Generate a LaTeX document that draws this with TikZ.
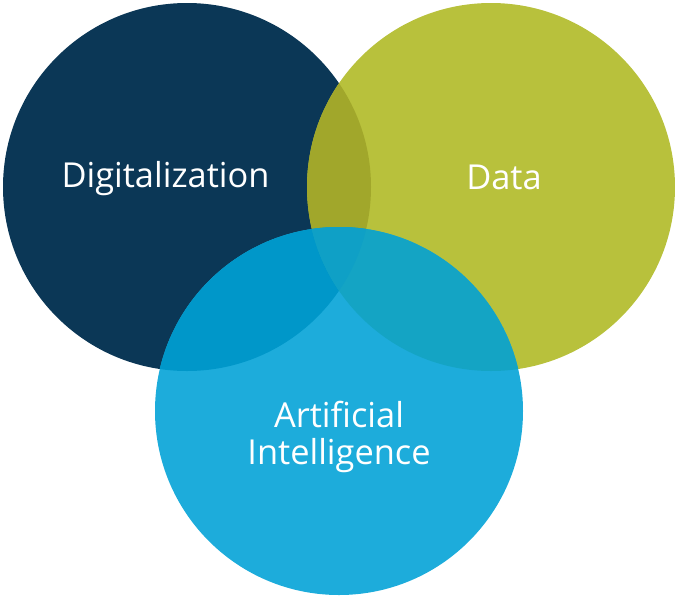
\documentclass[tikz,border=0pt]{standalone}
\usepackage{fontspec}
\setmainfont{Open Sans}
\definecolor{navy}{RGB}{11,55,86}
\definecolor{olive}{RGB}{184,193,60}
\definecolor{sky}{RGB}{29,172,219}
\definecolor{navyolive}{RGB}{161,167,43}
\definecolor{navysky}{RGB}{0,151,201}
\definecolor{olivesky}{RGB}{20,164,196}
\definecolor{allthree}{RGB}{15,160,198}
\tikzset{
  label/.style={anchor=base,inner sep=0.75pt,text=white,align=center,font=\fontsize{25.8}{27.75}\selectfont}
}
\begin{document}
\begin{tikzpicture}[x=0.75pt,y=0.75pt,yscale=-1,xscale=1]
\useasboundingbox (0,0) rectangle (675,597);
%Shape: Circle [Digitalization]
\fill [navy] (187,187) circle [radius=184];
%Shape: Circle [Data]
\fill [olive] (491,187) circle [radius=184];
%Shape: Circle [Artificial Intelligence]
\fill [sky] (339,411) circle [radius=184];
%Overlap: Digitalization and Data
\begin{scope}
\clip (187,187) circle [radius=184];
\fill [navyolive] (491,187) circle [radius=184];
\end{scope}
%Overlap: Digitalization and AI
\begin{scope}
\clip (187,187) circle [radius=184];
\fill [navysky] (339,411) circle [radius=184];
\end{scope}
%Overlap: Data and AI
\begin{scope}
\clip (491,187) circle [radius=184];
\fill [olivesky] (339,411) circle [radius=184];
\end{scope}
%Overlap: all three
\begin{scope}
\clip (187,187) circle [radius=184];
\clip (491,187) circle [radius=184];
\fill [allthree] (339,411) circle [radius=184];
\end{scope}

% Text Node
\node [label] (digit) at (165.5,187) {Digitalization};
% Text Node
\node [label] (data) at (504,189) {Data};
% Text Node
\node [label] (ai) at (339,464) {Artificial\\Intelligence};
\end{tikzpicture}
\end{document}
